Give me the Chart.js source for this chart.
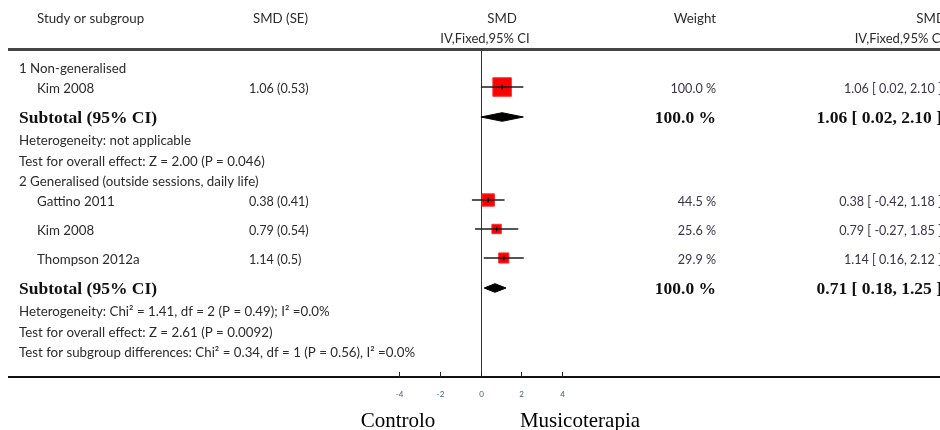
<!DOCTYPE html>
<html><head><meta charset="utf-8">
<script src="https://cdn.jsdelivr.net/npm/chart.js@4.4.0/dist/chart.umd.min.js"></script>
<style>html,body{margin:0;padding:0;background:#fff;overflow:hidden}#wrap{width:940px;height:430px;position:relative}</style>
</head><body><div id="wrap"><canvas id="c" width="940" height="430"></canvas></div>
<script>
// ---------- DATA ----------
const subgroupNames = ['1 Non-generalised', '2 Generalised (outside sessions, daily life)'];
const studyNames = ['Kim 2008', 'Gattino 2011', 'Kim 2008', 'Thompson 2012a'];
const studySubgroup = [0, 1, 1, 1];
const smd = [1.06, 0.38, 0.79, 1.14];
const se = [0.53, 0.41, 0.54, 0.5];
const ciLow = [0.02, -0.42, -0.27, 0.16];
const ciHigh = [2.10, 1.18, 1.85, 2.12];
const weights = [100.0, 44.5, 25.6, 29.9];
const subtotalSmd = [1.06, 0.71];
const subtotalLow = [0.02, 0.18];
const subtotalHigh = [2.10, 1.25];
const subtotalWeight = [100.0, 100.0];
const heterogeneityText = ['Heterogeneity: not applicable', 'Heterogeneity: Chi² = 1.41, df = 2 (P = 0.49); I² =0.0%'];
const overallEffectText = ['Test for overall effect: Z = 2.00 (P = 0.046)', 'Test for overall effect: Z = 2.61 (P = 0.0092)'];
const subgroupDiffText = 'Test for subgroup differences: Chi² = 0.34, df = 1 (P = 0.56), I² =0.0%';
const xTicks = [-4, -2, 0, 2, 4];
const favoursLeft = 'Controlo';
const favoursRight = 'Musicoterapia';

// ---------- LAYOUT (pixel-like row units) ----------
const ZERO_PX = 480.5, PX_PER_UNIT = 20.4, W = 940, H = 430;
const HEADER_RULE = 49.5, AXIS_LINE = 377;
const rows = [];
(function buildRows(){
  const step = {'group>study':20,'study>study':29,'study>subtotal':29.5,'subtotal>text':22.5,'text>text':20.5,'text>group':20.5};
  let y = 69, prev = null;
  function add(type, obj){ if(prev){ y += step[prev+'>'+type]; } obj.type=type; obj.y=y; rows.push(obj); prev = type; }
  for (let g=0; g<subgroupNames.length; g++){
    add('group',{label:subgroupNames[g], g});
    studyNames.forEach((n,i)=>{ if(studySubgroup[i]===g) add('study',{i}); });
    add('subtotal',{g});
    add('text',{label:heterogeneityText[g]});
    add('text',{label:overallEffectText[g]});
  }
  add('text',{label:subgroupDiffText});
})();
const studyRowY = studyNames.map((n,i)=> rows.find(r=>r.type==='study'&&r.i===i).y - 2);
const subtotalRowY = subtotalSmd.map((v,g)=> rows.find(r=>r.type==='subtotal'&&r.g===g).y - 1.5);

// ---------- DATASETS ----------
const datasets = [];
studyNames.forEach((n,i)=>{
  datasets.push({type:'line', data:[{x:ciLow[i],y:studyRowY[i]},{x:ciHigh[i],y:studyRowY[i]}],
    borderColor:'#1c1c1c', borderWidth:1.3, pointRadius:0, fill:false, order:0});
});
datasets.push({type:'scatter', data:smd.map((v,i)=>({x:v,y:studyRowY[i]})),
  pointStyle:'line', rotation:90, pointRadius:2.2, borderColor:'#000', borderWidth:1.3, order:-1});
datasets.push({type:'scatter', data:smd.map((v,i)=>({x:v,y:studyRowY[i]})),
  pointStyle:'rect', backgroundColor:'#ff0000', borderColor:'#ff2a2a', borderWidth:1,
  pointRadius:(ctx)=> 18.5*Math.sqrt(weights[ctx.dataIndex]/100)/Math.SQRT2, order:2});
const DH = 4.3;
subtotalSmd.forEach((v,g)=>{
  const yy = subtotalRowY[g];
  datasets.push({type:'line', data:[{x:subtotalLow[g],y:yy},{x:v,y:yy-DH},{x:subtotalHigh[g],y:yy},{x:v,y:yy+DH},{x:subtotalLow[g],y:yy}],
    borderColor:'#000', backgroundColor:'#000', borderWidth:1, pointRadius:0, tension:0, fill:'shape', order:0});
});

// ---------- TEXT / AXIS PLUGIN ----------
const SANS = 'Lato, "Open Sans", sans-serif';
const SERIF = '"Liberation Serif", "DejaVu Serif", serif';
function txt(ctx, s, x, y, align, font, color){ ctx.font=font; ctx.textAlign=align; ctx.fillStyle=color||'#2b2b2b'; ctx.textBaseline='middle'; ctx.fillText(s,x,y); }
const forestPlugin = {
  id:'forest',
  beforeDatasetsDraw(chart){
    const {ctx} = chart; const xs = chart.scales.x, ys = chart.scales.y;
    ctx.save();
    ctx.strokeStyle='#444'; ctx.lineWidth=3;
    ctx.beginPath(); ctx.moveTo(8, ys.getPixelForValue(HEADER_RULE)); ctx.lineTo(W, ys.getPixelForValue(HEADER_RULE)); ctx.stroke();
    const x0 = Math.round(xs.getPixelForValue(0))+0.5;
    ctx.strokeStyle='#333'; ctx.lineWidth=1;
    ctx.beginPath(); ctx.moveTo(x0, ys.getPixelForValue(HEADER_RULE)); ctx.lineTo(x0, ys.getPixelForValue(AXIS_LINE)); ctx.stroke();
    ctx.strokeStyle='#111'; ctx.lineWidth=2;
    ctx.beginPath(); ctx.moveTo(8, ys.getPixelForValue(AXIS_LINE)); ctx.lineTo(W, ys.getPixelForValue(AXIS_LINE)); ctx.stroke();
    ctx.lineWidth=1; ctx.strokeStyle='#222';
    xTicks.forEach(t=>{
      const px = Math.round(xs.getPixelForValue(t))+0.5;
      ctx.beginPath(); ctx.moveTo(px, ys.getPixelForValue(AXIS_LINE-5)); ctx.lineTo(px, ys.getPixelForValue(AXIS_LINE)); ctx.stroke();
      txt(ctx, String(t), px, ys.getPixelForValue(394), 'center', '8px '+SANS, '#3d5a88');
    });
    ctx.restore();
  },
  afterDatasetsDraw(chart){
    const {ctx} = chart; const ys = chart.scales.y;
    ctx.save();
    const F = '13.3px '+SANS, FN = '12.6px '+SANS, FH = '13px '+SANS, FB = 'bold 17.5px '+SERIF;
    txt(ctx,'Study or subgroup',37,19,'left',F);
    txt(ctx,'SMD (SE)',253,19,'left',F);
    txt(ctx,'SMD',502,19,'center',F);
    txt(ctx,'IV,Fixed,95% CI',485,39,'center',FH);
    txt(ctx,'Weight',716,19,'right',F);
    txt(ctx,'SMD',946,19,'right',F);
    txt(ctx,'IV,Fixed,95% CI',944,39,'right',FH);
    const fmtCI=(v,lo,hi)=> v.toFixed(2)+' [ '+lo.toFixed(2)+', '+hi.toFixed(2)+' ]';
    rows.forEach(r=>{
      const y = ys.getPixelForValue(r.y);
      if (r.type==='group' || r.type==='text') txt(ctx,r.label,19,y,'left',F);
      else if (r.type==='study'){
        const i=r.i;
        txt(ctx,studyNames[i],37,y,'left',F);
        txt(ctx,smd[i].toFixed(2)+' ('+se[i]+')',249,y,'left',FN);
        txt(ctx,weights[i].toFixed(1)+' %',716,y,'right',FN,'#3a3448');
        txt(ctx,fmtCI(smd[i],ciLow[i],ciHigh[i]),942,y,'right',FN,'#3a3448');
      } else if (r.type==='subtotal'){
        const g=r.g;
        txt(ctx,'Subtotal (95% CI)',19,y,'left',FB,'#111');
        txt(ctx,subtotalWeight[g].toFixed(1)+' %',716,y,'right',FB,'#111');
        txt(ctx,fmtCI(subtotalSmd[g],subtotalLow[g],subtotalHigh[g]),942,y,'right',FB,'#111');
      }
    });
    ctx.font='21px '+SERIF; ctx.fillStyle='#000'; ctx.textBaseline='alphabetic'; ctx.textAlign='center';
    ctx.fillText(favoursLeft,398,ys.getPixelForValue(427));
    ctx.fillText(favoursRight,580,ys.getPixelForValue(427));
    ctx.restore();
  }
};

new Chart(document.getElementById('c'), {
  type:'scatter',
  data:{datasets},
  options:{
    responsive:false, animation:false, events:[],
    layout:{padding:0, autoPadding:false},
    plugins:{legend:{display:false}, tooltip:{enabled:false}},
    scales:{
      x:{type:'linear', display:false, min:-ZERO_PX/PX_PER_UNIT, max:(W-ZERO_PX)/PX_PER_UNIT},
      y:{type:'linear', display:false, min:0, max:H, reverse:true}
    }
  },
  plugins:[forestPlugin]
});
</script></body></html>
